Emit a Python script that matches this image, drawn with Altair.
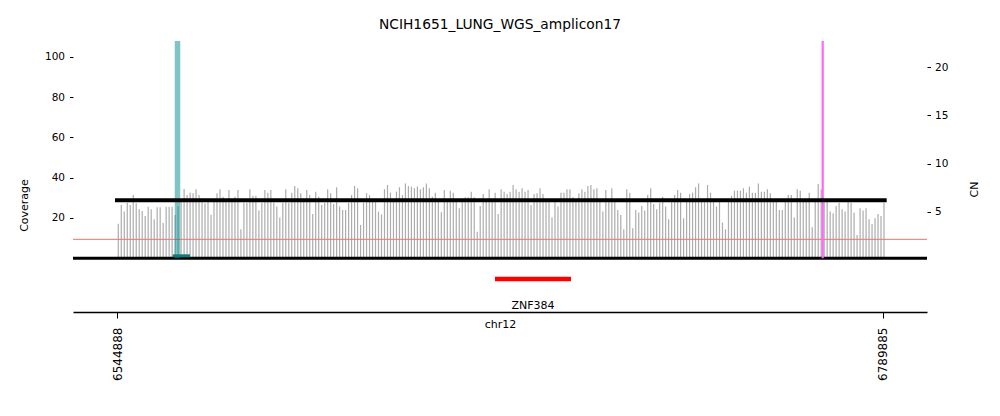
import altair as alt
import numpy as np
import pandas as pd

# ---------------- data ----------------
title_text = "NCIH1651_LUNG_WGS_amplicon17"
chrom = "chr12"
tick_positions = [6544888, 6789885]
x_domain = [6530808, 6804088]
cov_domain = [-26.71, 107.95]
cn_domain = [-5.43, 22.74]

bin_first = 6545300
bin_last = 6790330

coverage = [
    17.1, 26.5, 23.2, 27.6, 26.5, 31.4, 27.3, 24.3, 23.5, 21.0, 25.6, 24.3, 19.4, 25.3, 25.3, 17.5, 25.6, 25.6, 25.6, 21.5, 26.0,
    29.0, 34.4, 31.4, 32.6, 32.3, 34.3, 31.4, 29.8, 27.3, 29.0, 21.6, 29.0, 32.3, 34.3, 30.6, 29.0, 33.9, 29.0, 30.6, 33.9,
    14.4, 27.6, 27.6, 34.3, 31.0, 31.0, 23.7, 27.6, 33.9, 32.6, 33.9, 27.6, 25.7, 20.3, 27.6, 34.3, 27.6, 32.6, 35.9, 34.8,
    32.3, 29.8, 33.9, 31.4, 22.0, 33.1, 30.6, 26.5, 27.6, 34.3, 32.3, 27.0, 35.3, 25.7, 24.0, 24.0, 27.6, 31.4, 35.9, 34.8,
    16.5, 27.6, 32.3,
    31.4, 29.0, 28.5, 23.2, 21.8, 34.3, 36.4, 32.6, 29.0, 33.1, 35.3, 31.4, 37.2, 35.9, 35.6, 34.8, 35.6, 34.3, 35.3, 37.2,
    34.8, 30.6, 32.6, 28.5, 22.8, 33.9, 29.0, 33.6, 32.6, 28.8, 24.8, 29.0, 30.3, 30.3, 33.1, 30.3, 13.2, 26.0, 31.9, 29.0,
    34.3, 28.7, 32.6, 22.0,
    34.3, 33.1, 31.9, 33.1, 36.4, 34.3, 33.1, 34.8, 33.1, 33.9, 26.5, 31.9, 32.3, 34.8, 31.9, 29.0, 28.6, 20.3, 29.2, 25.7,
    32.6, 32.6, 34.3, 34.3, 30.3, 29.0, 32.3, 34.3, 33.1, 35.9, 36.4, 34.3, 34.8, 29.0, 23.2, 33.9, 29.0, 34.8, 28.8, 24.0,
    21.5, 14.4, 34.3,
    32.6, 14.9, 24.0, 22.7, 26.0, 23.7, 31.4, 34.8, 27.0, 24.3, 27.6, 30.6, 25.7, 19.4, 29.0, 31.4, 33.9, 32.6, 19.9, 29.0,
    31.9, 32.6, 35.3, 37.2, 29.0, 28.5, 36.4, 32.6, 29.0, 25.7, 29.0, 17.7, 14.4, 29.0, 31.0, 33.6, 33.6, 33.6, 34.8, 32.6,
    35.6, 32.6, 32.6,
    37.2, 33.1, 33.1, 34.3, 32.3, 29.0, 29.0, 24.0, 24.0, 29.0, 31.4, 31.4, 20.3, 34.3, 33.6, 29.0, 29.0, 32.6, 15.4, 29.0,
    36.9, 34.3, 29.0, 29.0, 23.2, 22.3, 26.0, 27.6, 24.3, 23.2, 29.0, 27.6, 22.7, 11.6, 24.8, 23.7, 24.8, 19.4, 17.0, 19.9,
    22.0, 21.0, 27.6,
]

# CN segment
cn_seg_start = [6544248]
cn_seg_end = [6791192]
cn_seg_value = [6.18]
cn_threshold = [9.4]   # thin red line (coverage units)

# breakpoints / features
teal_pos = [6564248]
teal_base_start = [6562712]
teal_base_end = [6568248]
teal_base_y = [1.2]
magenta_pos = [6770712]

# genes
gene_names = ["ZNF384"]
gene_start = [6665848]
gene_end = [6690168]
gene_y = [-10.3]
gene_label_y = [-23.6]

# ---------------- tables ----------------
positions = np.linspace(bin_first, bin_last, len(coverage))
bars_df = pd.DataFrame({"pos": positions, "cov": coverage})
cn_df = pd.DataFrame({"start": cn_seg_start, "end": cn_seg_end, "cn": cn_seg_value})
thr_df = pd.DataFrame({"y": cn_threshold})
teal_df = pd.DataFrame({"pos": teal_pos, "top": [cov_domain[1]], "bot": [0]})
teal_base_df = pd.DataFrame({"start": teal_base_start, "end": teal_base_end, "y": teal_base_y})
mag_df = pd.DataFrame({"pos": magenta_pos, "top": [cov_domain[1]], "bot": [0]})
gene_df = pd.DataFrame({"name": gene_names, "start": gene_start, "end": gene_end, "y": gene_y,
                        "ly": gene_label_y})
gene_df["mid"] = (gene_df["start"] + gene_df["end"]) / 2
base_df = pd.DataFrame({"y": [0]})

FONT = "DejaVu Sans"

x_scale = alt.Scale(domain=x_domain, nice=False, zero=False)
x_axis = alt.Axis(values=tick_positions, format="d", labelAngle=270, labelFontSize=12,
                  labelPadding=9, tickSize=6, tickColor="black", tickWidth=1,
                  domainColor="black", domainWidth=1.5, grid=False, labelColor="black",
                  title=chrom, titleFontSize=11, titleFontWeight="normal", titleY=12,
                  titleBaseline="middle", titleColor="black", labelFlush=False)
cov_scale = alt.Scale(domain=cov_domain, nice=False, zero=False)
cov_axis = alt.Axis(values=[20, 40, 60, 80, 100], title="Coverage", grid=False, domain=False,
                    tickSize=3.5, tickColor="black", labelPadding=5, labelFontSize=10.5,
                    labelColor="black", titleFontSize=11, titleFontWeight="normal",
                    titleColor="black", titleX=-49, titleY=164, titleAngle=270,
                    titleAlign="center", titleBaseline="middle")
cn_scale = alt.Scale(domain=cn_domain, nice=False, zero=False)
cn_axis = alt.Axis(values=[5, 10, 15, 20], title="CN", orient="right", grid=False, domain=False,
                   tickSize=3.5, tickColor="black", labelPadding=4, labelFontSize=10.5,
                   labelColor="black", titleFontSize=11, titleFontWeight="normal",
                   titleColor="black", titleX=47, titleY=148, titleAngle=270,
                   titleAlign="center", titleBaseline="middle")

def X(field):
    return alt.X(field, type="quantitative", scale=x_scale, axis=x_axis)

def Ycov(field):
    return alt.Y(field, type="quantitative", scale=cov_scale, axis=cov_axis)

bars = alt.Chart(bars_df).mark_rule(color="#acacac", strokeWidth=1.2).encode(
    x=X("pos"), y=Ycov("cov"), y2=alt.datum(0))

thr = alt.Chart(thr_df).mark_rule(color="#ec7474", strokeWidth=1).encode(y=Ycov("y"))

base = alt.Chart(base_df).mark_rule(color="black", strokeWidth=3).encode(y=Ycov("y"))

teal = alt.Chart(teal_df).mark_rule(color="#008b8b", opacity=0.5, strokeWidth=5.5).encode(
    x=X("pos"), y=Ycov("top"), y2="bot")

teal_base = alt.Chart(teal_base_df).mark_rule(color="#137a7a", strokeWidth=3).encode(
    x=X("start"), x2="end", y=Ycov("y"))

mag = alt.Chart(mag_df).mark_rule(color="#ff66ff", strokeWidth=2.2).encode(
    x=X("pos"), y=Ycov("top"), y2="bot")

gene = alt.Chart(gene_df).mark_rule(color="#ff0000", strokeWidth=4.5).encode(
    x=X("start"), x2="end", y=Ycov("y"))

gene_lbl = alt.Chart(gene_df).mark_text(font=FONT, fontSize=11, color="black",
                                         baseline="middle", align="center").encode(
    x=X("mid"), y=Ycov("ly"), text="name:N")

no_border = alt.ViewBackground(stroke="transparent", strokeWidth=0)

cov_layers = alt.layer(bars, thr, base, teal, teal_base, mag, gene, gene_lbl).properties(
    view=no_border)

cn_line = alt.Chart(cn_df).mark_rule(color="black", strokeWidth=4).encode(
    x=X("start"), x2="end",
    y=alt.Y("cn", type="quantitative", scale=cn_scale, axis=cn_axis)).properties(view=no_border)

chart = alt.layer(cov_layers, cn_line).resolve_scale(y="independent").properties(
    width=854, height=271,
    view=no_border,
    title=alt.TitleParams(title_text, fontSize=13.8, fontWeight="normal", font=FONT,
                          color="black", anchor="middle", offset=6),
    autosize=alt.AutoSizeParams(type="none"),
    padding={"left": 65, "top": 33, "right": 65, "bottom": 80},
).configure_view(stroke="transparent", strokeWidth=0).configure(font=FONT)

chart.save("out.html", embed_options={"renderer": "svg", "actions": False})
